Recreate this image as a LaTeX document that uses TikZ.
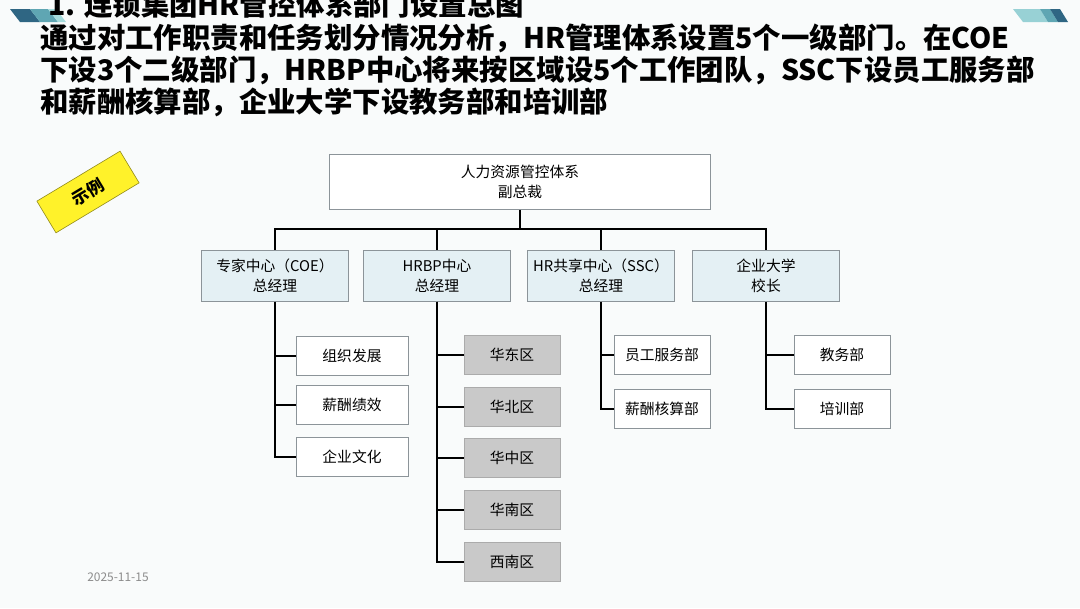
\documentclass[tikz,border=0pt]{standalone}
\usepackage{fontspec}
\newfontfamily\cjk{Noto Sans CJK SC}
\usetikzlibrary{positioning,calc}
\definecolor{bgcol}{HTML}{F9FBFB}
\definecolor{boxline}{HTML}{8C9499}
\definecolor{deptfill}{HTML}{E4F0F4}
\definecolor{regionfill}{HTML}{C9C9C9}
\definecolor{tagfill}{HTML}{FFF22A}
\definecolor{stripeA}{HTML}{2F6683}
\definecolor{stripeB}{HTML}{5FA6B3}
\definecolor{stripeC}{HTML}{A6DCDD}

\begin{document}
\begin{tikzpicture}[
    x=0.025cm, y=-0.025cm,
    topbox/.style={rectangle, draw=boxline, line width=0.6pt, fill=white, minimum width=9.525cm, minimum height=1.375cm, align=center, font=\cjk\fontsize{10.5}{14}\selectfont},
    deptbox/.style={rectangle, draw=boxline, line width=0.6pt, fill=deptfill, minimum width=3.675cm, minimum height=1.275cm, align=center, font=\cjk\fontsize{10.5}{14}\selectfont},
    subbox/.style={rectangle, draw=boxline, line width=0.6pt, fill=white, minimum width=2.4cm, minimum height=0.975cm, font=\cjk\fontsize{10.5}{13}\selectfont},
    regionbox/.style={subbox, fill=regionfill, draw=regionfill!85!black},
    link/.style={draw=black, line width=2pt},
    headline/.style={anchor=west, inner sep=0pt, font=\cjk\bfseries\fontsize{20.2}{23}\selectfont}
]
\useasboundingbox (0,0) rectangle (1080,608);
\fill[bgcol] (0,0) rectangle (1080,608);

% corner stripes
\fill[stripeA] (10,9) -- (30,9) -- (40,22) -- (20,22) -- cycle;
\fill[stripeB] (30,9) -- (48,9) -- (58,22) -- (40,22) -- cycle;
\fill[stripeC] (48,9) -- (56,9) -- (66,22) -- (58,22) -- cycle;
\fill[stripeC!80!stripeB] (1013,9) -- (1040,9) -- (1048,22) -- (1023,22) -- cycle;
\fill[stripeB] (1040,9) -- (1050,9) -- (1058,22) -- (1048,22) -- cycle;
\fill[stripeA] (1050,9) -- (1060,9) -- (1068,22) -- (1058,22) -- cycle;

% heading
\node[headline] (title) at (48,5) {1. 连锁集团HR管控体系部门设置总图};
\node[headline] (line1) at (40,38) {通过对工作职责和任务划分情况分析，HR管理体系设置5个一级部门。在COE};
\node[headline] (line2) at (40,70) {下设3个二级部门，HRBP中心将来按区域设5个工作团队，SSC下设员工服务部};
\node[headline] (line3) at (40,102) {和薪酬核算部，企业大学下设教务部和培训部};

% example tag
\node[rectangle, draw=black!45!tagfill, fill=tagfill, rotate=31, minimum width=2.425cm, minimum height=0.925cm, font=\cjk\bfseries\fontsize{12}{14}\selectfont] (tag) at (88,192) {示例};

% level 1
\node[topbox] (vp) at (520,182) {人力资源管控体系\\副总裁};

% level 2
\node[deptbox] (coe) at (275,276) {专家中心（COE）\\总经理};
\node[deptbox] (hrbp) at (437,276) {HRBP中心\\总经理};
\node[deptbox] (ssc) at (601,276) {HR共享中心（SSC）\\总经理};
\node[deptbox] (uni) at (766,276) {企业大学\\校长};

\coordinate (bus) at (520,229);
\draw[link] (vp.south) -- (bus);
\foreach \d in {coe,hrbp,ssc,uni} {
    \draw[link] (bus) -| (\d.north);
}

% COE
\node[subbox, minimum width=2.8cm] (coe1) at (352,356) {组织发展};
\node[subbox, minimum width=2.8cm] (coe2) at (352,405) {薪酬绩效};
\node[subbox, minimum width=2.8cm] (coe3) at (352,457) {企业文化};
\foreach \i in {1,...,3} {
    \draw[link] (coe.south) |- (coe\i.west);
}

% HRBP regions
\node[regionbox] (reg1) at (512,355) {华东区};
\node[regionbox] (reg2) at (512,407) {华北区};
\node[regionbox] (reg3) at (512,458) {华中区};
\node[regionbox] (reg4) at (512,510) {华南区};
\node[regionbox] (reg5) at (512,562) {西南区};
\foreach \i in {1,...,5} {
    \draw[link] (hrbp.south) |- (reg\i.west);
}

% SSC
\node[subbox] (ssc1) at (662,355) {员工服务部};
\node[subbox] (ssc2) at (662,409) {薪酬核算部};
\foreach \i in {1,2} {
    \draw[link] (ssc.south) |- (ssc\i.west);
}

% university
\node[subbox] (uni1) at (842,355) {教务部};
\node[subbox] (uni2) at (842,409) {培训部};
\foreach \i in {1,2} {
    \draw[link] (uni.south) |- (uni\i.west);
}

% date
\node[anchor=west, inner sep=0pt, text=black!45, font=\cjk\fontsize{8.5}{10}\selectfont] (date) at (87,577) {2025-11-15};

\end{tikzpicture}
\end{document}
